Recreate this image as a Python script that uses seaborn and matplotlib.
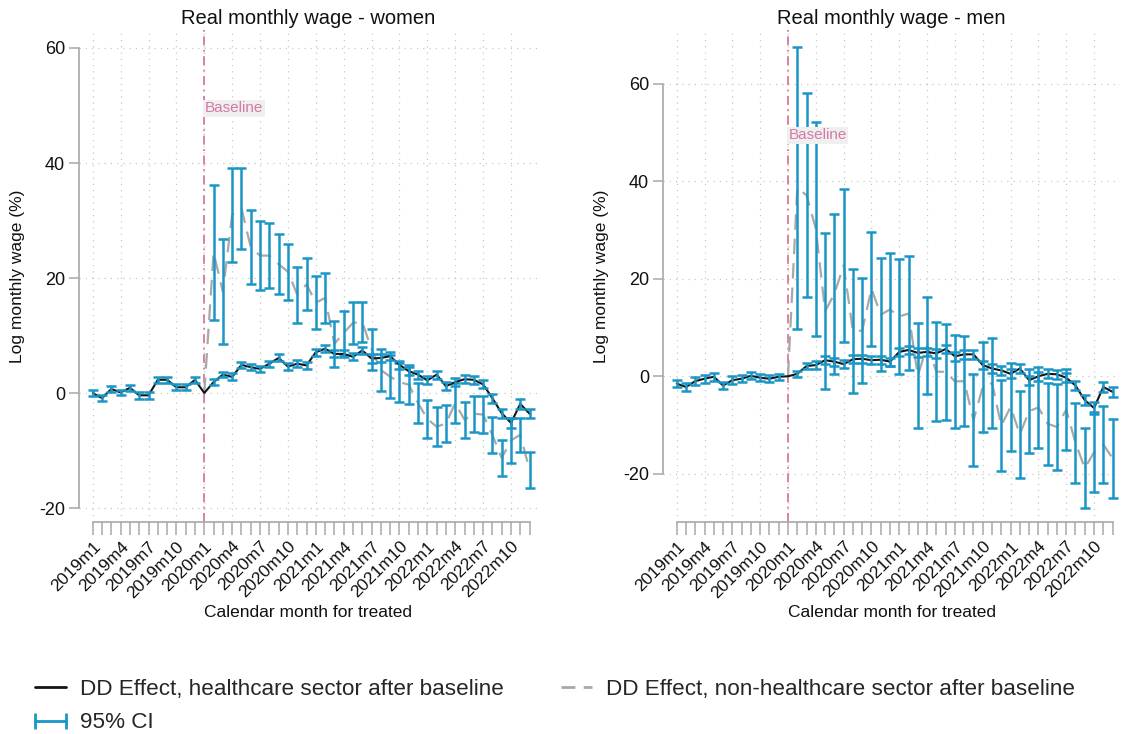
import numpy as np
import pandas as pd
import matplotlib
matplotlib.use("Agg")
import matplotlib.pyplot as plt
import seaborn as sns
from matplotlib.lines import Line2D

# ---------------- data ----------------
years = [2019, 2020, 2021, 2022]
months = [f"{y}m{m}" for y in years for m in range(1, 13)]
tick_labels = [m for i, m in enumerate(months) if i % 3 == 0]
baseline_idx = 12

# Women: healthcare sector (black), full period
women_hc = [0.0, -0.9, 0.7, 0.1, 0.9, -0.4, -0.4, 2.3, 2.3, 1.0, 1.0, 2.3,
            0.0, 1.9, 3.2, 2.8, 4.9, 4.5, 4.2, 5.1, 6.1, 4.6, 5.1, 4.8,
            7.1, 7.7, 6.8, 6.8, 6.3, 7.4, 6.0, 6.1, 6.4, 4.9, 3.8, 3.2,
            2.2, 3.2, 1.2, 1.9, 2.4, 2.3, 1.5, -0.9, -3.5, -5.2, -1.9, -3.6]
women_hc_hw = [0.5, 0.5, 0.5, 0.5, 0.5, 0.6, 0.6, 0.5, 0.5, 0.5, 0.5, 0.5,
               0.0, 0.5, 0.5, 0.6, 0.5, 0.5, 0.5, 0.5, 0.6, 0.6, 0.6, 0.6,
               0.6, 0.6, 0.6, 0.6, 0.6, 0.6, 0.7, 0.7, 0.7, 0.7, 0.7, 0.7,
               0.7, 0.7, 0.7, 0.7, 0.7, 0.7, 0.7, 0.8, 0.8, 0.9, 0.8, 0.8]
# Women: non-healthcare sector (grey dashed), from baseline on
women_nhc_lo = [0.0, 12.7, 8.5, 22.8, 25.1, 18.9, 17.9, 18.2, 17.2, 16.2, 12.2, 14.4,
                11.1, 12.2, 4.6, 6.6, 8.5, 8.8, 4.0, 0.3, -0.9, -1.5, -1.9, -5.2,
                -7.8, -9.3, -8.5, -5.2, -7.8, -6.7, -6.9, -10.5, -14.4, -12.1, -10.2, -16.6]
women_nhc_hi = [0.0, 36.1, 26.8, 39.2, 39.2, 31.8, 29.9, 29.6, 27.6, 26.0, 22.0, 23.4,
                20.3, 20.9, 12.5, 14.3, 15.9, 15.9, 11.1, 7.7, 6.6, 5.3, 4.8, 1.7,
                -1.2, -2.4, -2.1, 1.7, -1.5, -0.5, -0.6, -4.1, -8.2, -4.4, -4.3, -10.2]

# Men: healthcare sector (black), full period
men_hc = [-1.5, -2.2, -1.0, -0.5, -0.1, -1.9, -0.8, -0.5, 0.1, -0.3, -0.5, -0.1,
          0.0, 0.5, 2.1, 2.3, 3.3, 3.0, 2.5, 3.5, 3.6, 3.3, 3.4, 3.0,
          5.0, 5.4, 4.8, 5.0, 4.7, 5.6, 4.1, 4.5, 4.5, 2.3, 1.6, 1.2,
          0.5, 1.6, -0.8, 0.0, 0.5, 0.4, -0.3, -1.9, -4.9, -6.5, -2.2, -3.2]
men_hc_hw = [0.8, 0.8, 0.8, 0.8, 0.8, 0.8, 0.8, 0.7, 0.7, 0.7, 0.7, 0.6,
             0.0, 0.6, 0.7, 0.8, 0.8, 0.8, 0.8, 0.8, 0.8, 0.8, 0.8, 0.8,
             0.9, 0.9, 0.9, 0.9, 0.9, 0.9, 0.9, 0.9, 0.9, 0.9, 0.9, 0.9,
             0.9, 0.9, 0.9, 0.9, 0.9, 0.9, 0.9, 1.0, 1.0, 1.2, 1.0, 1.0]
# Men: non-healthcare sector (grey dashed), from baseline on
men_nhc_lo = [0.0, 9.7, 16.2, 8.3, -2.7, 0.5, 7.1, -3.4, -1.4, 6.3, 1.0, 2.1,
              0.4, 1.2, -10.7, -3.6, -9.2, -8.9, -10.6, -10.2, -18.4, -11.5, -10.7, -19.4,
              -15.3, -20.8, -15.7, -14.7, -18.2, -19.2, -15.1, -21.8, -27.1, -23.8, -21.9, -24.9]
men_nhc_hi = [0.0, 67.6, 58.1, 52.2, 29.4, 33.3, 38.4, 22.0, 20.1, 29.6, 24.3, 25.3,
              24.1, 24.6, 10.9, 16.2, 11.1, 10.7, 8.5, 8.2, 0.4, 7.1, 7.9, -0.8,
              2.7, -3.0, 1.4, 1.9, -1.3, -1.6, 1.4, -5.5, -10.6, -7.4, -6.1, -8.7]

titles = ["Real monthly wage - women", "Real monthly wage - men"]
ylabel = "Log monthly wage (%)"
xlabel = "Calendar month for treated"
ytick_vals = [-20, 0, 20, 40, 60]
legend_labels = ["DD Effect, healthcare sector after baseline",
                 "DD Effect, non-healthcare sector after baseline",
                 "95% CI"]

# ---------------- style ----------------
sns.set_theme(style="white")
plt.rcParams["font.family"] = ["Liberation Sans", "DejaVu Sans"]

BLUE = "#1a96c6"
GREY = "#a8a8a8"
BLACK = "#151515"
PINK = "#d678a8"
AXC = "#a8a8a8"

fig = plt.figure(figsize=(11.21, 7.34), dpi=100)
W, H = 1121, 734

def ax_rect(x0, x1, y0, y1):
    return [x0 / W, 1 - y1 / H, (x1 - x0) / W, (y1 - y0) / H]

axes = [fig.add_axes(ax_rect(79, 537, 30, 522)),
        fig.add_axes(ax_rect(663, 1120, 30, 522))]
ylims = [(-22.43, 63.13), (-29.9, 71.05)]

panels = [
    (women_hc, women_hc_hw, women_nhc_lo, women_nhc_hi),
    (men_hc, men_hc_hw, men_nhc_lo, men_nhc_hi),
]

x_all = np.arange(len(months))
x_post = np.arange(baseline_idx, len(months))

for ax, (hc, hw, lo, hi), ttl, yl in zip(axes, panels, titles, ylims):
    hc = np.array(hc)
    hw = np.array(hw)
    lo = np.array(lo)
    hi = np.array(hi)
    mid = (lo + hi) / 2
    mid[0] = 0.0

    df_hc = pd.DataFrame({"x": x_all, "y": hc})
    df_nhc = pd.DataFrame({"x": x_post, "y": mid})

    # grid
    for gx in range(0, len(months), 3):
        ax.axvline(gx, color="#c8c8c8", lw=0.9, ls=(0, (1, 4)), zorder=0)
    for gy in ytick_vals:
        ax.axhline(gy, color="#c8c8c8", lw=0.9, ls=(0, (1, 4)), zorder=0)

    # non-healthcare dashed line
    sns.lineplot(data=df_nhc, x="x", y="y", ax=ax, color=GREY, lw=1.6,
                 dashes=False, zorder=2)
    ax.lines[-1].set_linestyle((0, (7, 4)))
    # non-healthcare CI
    ax.errorbar(x_post[1:], mid[1:], yerr=[mid[1:] - lo[1:], hi[1:] - mid[1:]],
                fmt="none", ecolor=BLUE, elinewidth=1.8, capsize=3.5,
                capthick=1.8, zorder=3)

    # healthcare line
    sns.lineplot(data=df_hc, x="x", y="y", ax=ax, color=BLACK, lw=1.5, zorder=4)
    mask = hw > 0
    ax.errorbar(x_all[mask], hc[mask], yerr=hw[mask], fmt="none",
                ecolor=BLUE, elinewidth=1.8, capsize=3.5, capthick=1.8,
                zorder=5)

    # baseline
    ax.axvline(baseline_idx, color=PINK, lw=1.3, ls=(0, (5, 2.5, 1, 2.5)), zorder=1)
    ax.text(baseline_idx + 0.05, 49.5, "Baseline", color=PINK, fontsize=11,
            ha="left", va="center", zorder=6,
            bbox=dict(boxstyle="square,pad=0.1", fc="#efefef", ec="none"))

    ax.set_xlim(-1.48, 47.8)
    ax.set_ylim(*yl)
    ax.set_yticks(ytick_vals)
    ax.set_yticklabels([str(v) for v in ytick_vals], fontsize=13)
    ax.set_xticks(range(0, len(months), 3))
    ax.set_xticklabels(tick_labels, rotation=45, ha="right",
                       rotation_mode="anchor", fontsize=12.5)
    ax.set_xticks(range(len(months)), minor=True)

    for s in ["top", "right"]:
        ax.spines[s].set_visible(False)
    ax.spines["left"].set_bounds(-20, 60)
    ax.spines["bottom"].set_bounds(0, len(months) - 1)
    for s in ["left", "bottom"]:
        ax.spines[s].set_color(AXC)
        ax.spines[s].set_linewidth(1.2)
    ax.tick_params(axis="both", which="both", direction="out", color=AXC,
                   width=1.1, bottom=True, left=True, labelcolor="#111111")
    ax.tick_params(axis="y", length=7, pad=3)
    ax.tick_params(axis="x", which="major", length=9, pad=3)
    ax.tick_params(axis="x", which="minor", length=9)

    ax.set_title(ttl, fontsize=14.5, color="#111111", pad=4)
    ax.set_ylabel(ylabel, fontsize=12.5, color="#111111", labelpad=10)
    ax.set_xlabel(xlabel, fontsize=12.5, color="#111111", labelpad=3)
    ax.grid(False)

# ---------------- legend ----------------
h_hc = Line2D([], [], color=BLACK, lw=2)
h_nhc = Line2D([], [], color=GREY, lw=2, ls=(0, (5, 3)))
h_ci = Line2D([], [], color=BLUE, lw=2, marker="|", markersize=12, mew=2)

leg_kw = dict(loc="upper left", frameon=False, fontsize=16.2, numpoints=2,
              handlelength=2.0, handletextpad=0.3, labelspacing=0.55,
              borderaxespad=0)
leg1 = fig.legend([h_hc, h_ci], [legend_labels[0], legend_labels[2]],
                  bbox_to_anchor=(19 / W, 1 - 670 / H), **leg_kw)
leg2 = fig.legend([h_nhc], [legend_labels[1]],
                  bbox_to_anchor=(545 / W, 1 - 670 / H), **leg_kw)

fig.savefig("out.png", dpi=100)
